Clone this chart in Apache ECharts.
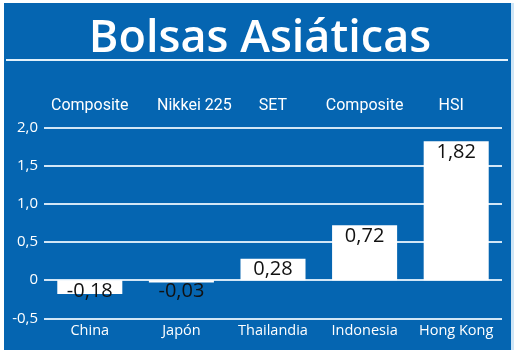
<!DOCTYPE html>
<html>
<head>
<meta charset="utf-8">
<style>
html,body{margin:0;padding:0;background:#ffffff;}
#c{width:520px;height:356px;}
</style>
<script src="https://cdn.jsdelivr.net/npm/echarts@6/dist/echarts.min.js"></script>
</head>
<body>
<div id="c"></div>
<script>
const titleText = 'Bolsas Asiáticas';
const countries = ['China', 'Japón', 'Thailandia', 'Indonesia', 'Hong Kong'];
const indices = ['Composite', 'Nikkei 225', 'SET', 'Composite', 'HSI'];
const values = [-0.18, -0.03, 0.28, 0.72, 1.82];
const yMin = -0.5, yMax = 2.0, yStep = 0.5;

const BLUE = '#0565b1';
const LINE = '#d2e6f6';
const fmt = v => v.toFixed(2).replace('.', ',');
// small horizontal nudges for the top index labels (style only)
const topPad = {'Nikkei 225': 26, 'HSI': -10};

const chart = echarts.init(document.getElementById('c'));
chart.setOption({
  animation: false,
  backgroundColor: '#ffffff',
  graphic: [
    {type: 'rect', z: -10, shape: {x: 4, y: 3, width: 507, height: 347}, style: {fill: BLUE}},
    {type: 'rect', z: -9, shape: {x: 511, y: 3, width: 3, height: 347}, style: {fill: '#cfe6f7'}},
    {type: 'rect', z: -5, shape: {x: 6, y: 59, width: 502, height: 2}, style: {fill: '#e2f1fb'}}
  ],
  title: {
    text: titleText,
    left: 'center',
    top: 12,
    textStyle: {color: '#ffffff', fontFamily: 'Open Sans', fontWeight: 600, fontSize: 45}
  },
  grid: {left: 44, right: 18, top: 127.5, bottom: 37.7, containLabel: false, outerBoundsMode: 'none'},
  xAxis: [
    {
      type: 'category', data: countries, position: 'bottom',
      axisLine: {show: false}, axisTick: {show: false},
      axisLabel: {color: '#ffffff', fontFamily: 'Open Sans', fontSize: 14.5, margin: 5, interval: 0}
    },
    {
      type: 'category', data: indices, position: 'top',
      axisLine: {show: false}, axisTick: {show: false},
      axisLabel: {
        color: '#ffffff', fontFamily: 'Roboto', fontSize: 16, margin: 14, interval: 0,
        formatter: (v) => {
          const p = topPad[v] || 0;
          if (p > 0) return '{r|' + v + '}';
          if (p < 0) return '{l|' + v + '}';
          return v;
        },
        rich: {
          r: {color: '#ffffff', fontFamily: 'Roboto', fontSize: 16, padding: [0, 0, 0, 26]},
          l: {color: '#ffffff', fontFamily: 'Roboto', fontSize: 16, padding: [0, 10, 0, 0]}
        }
      }
    }
  ],
  yAxis: {
    type: 'value', min: yMin, max: yMax, interval: yStep,
    axisLine: {show: false}, axisTick: {show: false},
    axisLabel: {
      color: '#ffffff', fontFamily: 'Open Sans', fontSize: 15, margin: 6, padding: [3, 0, 0, 0],
      formatter: v => v === 0 ? '0' : v.toFixed(1).replace('.', ',')
    },
    splitLine: {lineStyle: {color: LINE, width: 2}}
  },
  series: [{
    type: 'bar',
    xAxisIndex: 0,
    data: values,
    barCategoryGap: '29%',
    itemStyle: {color: '#ffffff'},
    label: {
      show: true, position: 'insideTop', distance: 1,
      color: '#111111', fontFamily: 'Open Sans', fontWeight: 500, fontSize: 20,
      formatter: p => fmt(p.value)
    },
    z: 3
  }]
});
</script>
</body>
</html>
